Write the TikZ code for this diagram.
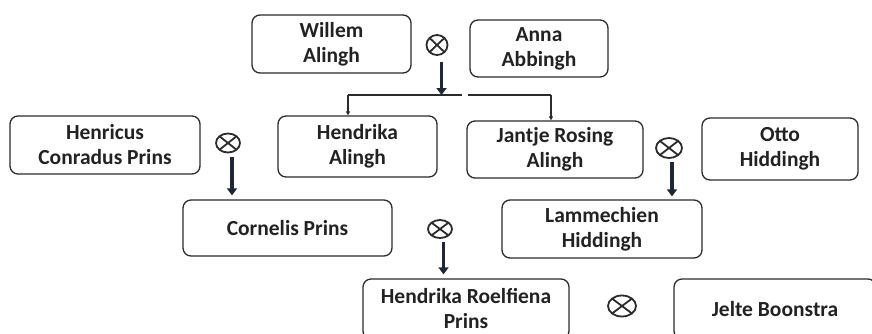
\documentclass[tikz,border=0pt]{standalone}
\usepackage{fontspec}
\setmainfont{Carlito}
\usetikzlibrary{arrows.meta,shapes.geometric}
\definecolor{boxc}{HTML}{2B2B2B}
\definecolor{txt}{HTML}{222222}
\definecolor{navy}{HTML}{1F2737}
\begin{document}
\begin{tikzpicture}[x=1pt,y=-1pt,
  person/.style={draw=boxc, line width=1.3pt, rounded corners=8pt, align=center,
    font=\bfseries\fontsize{21.5}{25}\selectfont, text=txt, inner sep=0pt},
  marr/.style={ellipse, draw=boxc, line width=1.8pt, inner sep=0pt,
    path picture={\draw[boxc, line width=1.8pt]
      (path picture bounding box.north west) -- (path picture bounding box.south east)
      (path picture bounding box.south west) -- (path picture bounding box.north east);}},
  desc/.style={draw=navy, line width=3.5pt, -{Triangle[width=10pt,length=7pt]}},
  branch/.style={draw=boxc, line width=1.2pt, -{Triangle[width=4pt,length=4pt]}}]
\useasboundingbox (0,0) rectangle (872,333);

% people
\node[person, minimum width=159pt, minimum height=58pt] (willem) at (331.5,44) {Willem\\Alingh};
\node[person, minimum width=138pt, minimum height=57pt] (anna) at (539,48.5) {Anna\\Abbingh};
\node[person, minimum width=190pt, minimum height=58pt] (henricus) at (105,145) {Henricus\\Conradus Prins};
\node[person, minimum width=159pt, minimum height=61pt] (hendrikaA) at (357.5,146.5) {Hendrika\\Alingh};
\node[person, minimum width=176pt, minimum height=57pt] (jantje) at (555,149.5) {Jantje Rosing\\Alingh};
\node[person, minimum width=156pt, minimum height=62pt] (otto) at (780,149) {Otto\\Hiddingh};
\node[person, minimum width=209pt, minimum height=56pt] (cornelis) at (287.5,228) {Cornelis Prins};
\node[person, minimum width=200pt, minimum height=58pt] (lammechien) at (602,229) {Lammechien\\Hiddingh};
\node[person, minimum width=206pt, minimum height=60pt] (hendrikaR) at (466,309) {Hendrika Roelfiena\\Prins};
\node[person, minimum width=202pt, minimum height=60pt] (jelte) at (775,309) {Jelte Boonstra};

% marriage symbols
\node[marr, minimum width=21pt, minimum height=20pt] (m1) at (437,45) {};
\node[marr, minimum width=24pt, minimum height=19pt] (m2) at (228,143) {};
\node[marr, minimum width=26pt, minimum height=20pt] (m3) at (669,148) {};
\node[marr, minimum width=24pt, minimum height=18pt] (m4) at (440,229) {};
\node[marr, minimum width=28pt, minimum height=21pt] (m5) at (622,306) {};

% branch coordinates
\coordinate (bl) at (348,95);
\coordinate (br) at (551,95);
\coordinate (g1) at (462,95);
\coordinate (g2) at (468,95);
\coordinate (s1) at (441.5,62);
\coordinate (s2) at (232,157);
\coordinate (s3) at (672,162);
\coordinate (s4) at (443.5,242);

% connectors
\draw[desc] (s1) -- (s1 |- bl);
\draw[boxc, line width=1.2pt] (g1) -- (bl);
\draw[boxc, line width=1.2pt] (g2) -- (br);
\draw[branch] (bl) -- (bl |- hendrikaA.north);
\draw[branch] (br) -- (br |- jantje.north);
\draw[desc, shorten >=4pt] (s2) -- (s2 |- cornelis.north);
\draw[desc, shorten >=3pt] (s3) -- (s3 |- lammechien.north);
\draw[desc, shorten >=4pt] (s4) -- (s4 |- hendrikaR.north);
\end{tikzpicture}
\end{document}
